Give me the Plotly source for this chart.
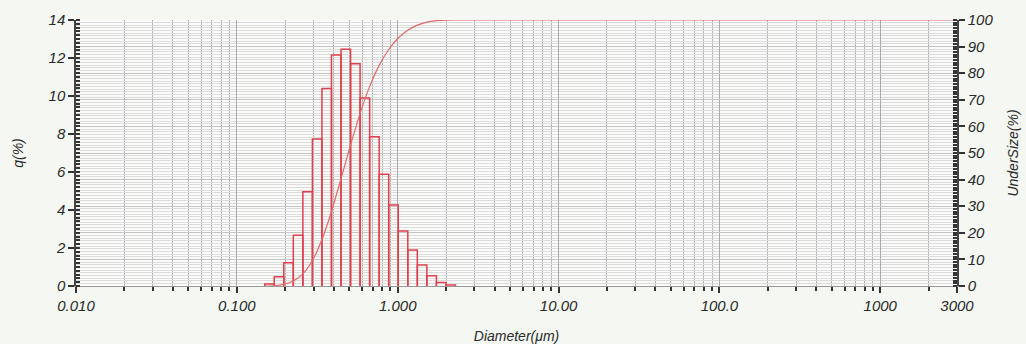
import plotly.graph_objects as go

# ---- data ----
bin_edges = [0.149, 0.1708, 0.1958, 0.2244, 0.2573, 0.2949, 0.3381, 0.3875, 0.4442,
             0.5092, 0.5837, 0.6691, 0.7670, 0.8792, 1.0078, 1.1553, 1.3243, 1.5181,
             1.7402, 1.9948, 2.2866]
q_percent = [0.10, 0.49, 1.23, 2.67, 4.96, 7.74, 10.4, 12.16, 12.46, 11.7, 9.9, 7.86,
             5.88, 4.26, 2.89, 1.89, 1.10, 0.54, 0.19, 0.05]
cum_x = bin_edges + [3000]
undersize = [0, 0.10, 0.60, 1.85, 4.56, 9.60, 17.46, 28.02, 40.37, 53.02, 64.90, 74.96,
             82.94, 88.91, 93.24, 96.17, 98.09, 99.21, 99.76, 99.95, 100, 100]

x_tickvals = [0.01, 0.1, 1, 10, 100, 1000, 3000]
x_ticktext = ["0.010", "0.100", "1.000", "10.00", "100.0", "1000", "3000"]
x_minor = [m * 10 ** e for e in range(-2, 4) for m in range(2, 10) if m * 10 ** e < 3000]

RED = "#e0404c"
FONT = dict(family="Liberation Sans, Arial, sans-serif", size=15, color="#2a2a2a", style="italic")
TFONT = dict(family="Liberation Sans, Arial, sans-serif", size=14, color="#2a2a2a", style="italic")

# build outlined histogram bars from the bin edges
bx, by = [], []
for i, h in enumerate(q_percent):
    xl, xr = bin_edges[i], bin_edges[i + 1]
    bx += [xl, xl, xr, xr, None]
    by += [0, h, h, 0, None]

fig = go.Figure()
fig.add_trace(go.Scatter(x=bx, y=by, mode="lines", line=dict(color=RED, width=1.5),
                         showlegend=False, hoverinfo="skip"))
fig.add_trace(go.Scatter(x=cum_x, y=undersize, mode="lines", yaxis="y2",
                         line=dict(color="#e36a6a", width=1.2, shape="spline", smoothing=0.6),
                         showlegend=False))

fig.update_layout(
    width=1026, height=344,
    margin=dict(l=76, r=69, t=20, b=58, autoexpand=False),
    paper_bgcolor="#f4f7f2",
    plot_bgcolor="#fbfcfa",
    font=FONT,
    xaxis=dict(
        type="log", range=[-2, 3.4771], tickmode="array", automargin=False,
        tickvals=x_tickvals, ticktext=x_ticktext, tickfont=FONT,
        ticks="outside", ticklen=6, tickwidth=1.5, tickcolor="#333",
        showgrid=True, gridcolor="#aaaaaa", gridwidth=1,
        showline=True, linecolor="#999", linewidth=1,
        minor=dict(tickmode="array", tickvals=x_minor, ticks="outside", ticklen=4,
                   tickwidth=1.5, tickcolor="#333", showgrid=True, gridcolor="#b4b4b4", gridwidth=1),
        title=dict(text="Diameter(μm)", font=TFONT, standoff=18),
        zeroline=False,
    ),
    yaxis=dict(
        range=[0, 14], dtick=2, tick0=0, tickfont=FONT, automargin=False,
        ticks="outside", ticklen=6, tickwidth=1.5, tickcolor="#333",
        showgrid=False, showline=True, linecolor="#444", linewidth=1.5,
        minor=dict(dtick=0.2, ticks="inside", ticklen=4, tickwidth=1.5, tickcolor="#333", showgrid=False),
        title=dict(text="q(%)", font=TFONT, standoff=22),
        zeroline=False,
    ),
    yaxis2=dict(
        range=[0, 100], dtick=10, tick0=0, overlaying="y", side="right", tickfont=FONT,
        automargin=False,
        ticks="outside", ticklen=6, tickwidth=1.5, tickcolor="#333",
        showgrid=True, gridcolor="#c4c4c4", gridwidth=1,
        showline=True, linecolor="#444", linewidth=1.5,
        minor=dict(dtick=1, ticks="inside", ticklen=4, tickwidth=1.5, tickcolor="#333",
                   showgrid=True, gridcolor="#dcdcdc", gridwidth=1),
        title=dict(text="UnderSize(%)", font=TFONT, standoff=16),
        zeroline=False,
    ),
)

fig.write_html("out.html", config={"displayModeBar": False},
               post_script="document.body.style.margin='0';document.body.style.background='#f4f7f2';document.body.style.overflow='hidden';")
